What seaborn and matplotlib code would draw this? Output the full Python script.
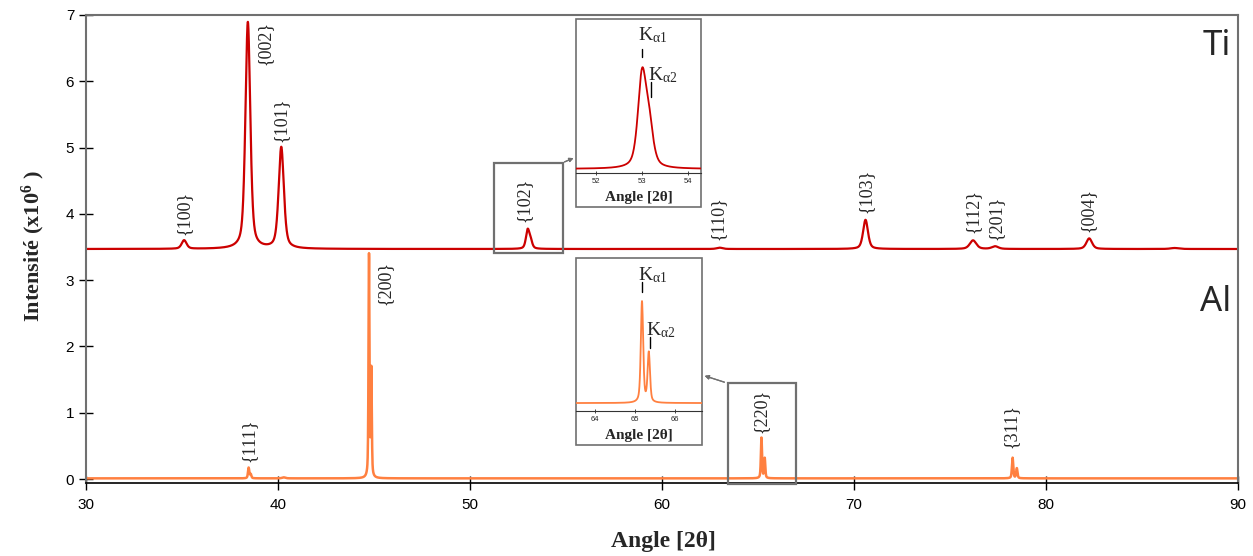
import numpy as np
import pandas as pd
import matplotlib.pyplot as plt
import seaborn as sns
from matplotlib.patches import Rectangle
from matplotlib.lines import Line2D

angle = np.arange(30.0, 90.0001, 0.005)

ti_base = 3.47
ti_pos = [35.11, 38.43, 40.17, 53.00, 53.15, 63.00, 70.60, 76.20, 77.35, 82.25, 86.70]
ti_h = [0.13, 3.42, 1.53, 0.27, 0.12, 0.02, 0.44, 0.13, 0.04, 0.16, 0.015]
ti_w = [0.30, 0.30, 0.32, 0.21, 0.21, 0.35, 0.30, 0.40, 0.40, 0.35, 0.50]

al_base = 0.01
al_pos = [38.47, 38.58, 40.30, 44.74, 44.86, 65.18, 65.35, 78.26, 78.48]
al_h = [0.16, 0.06, 0.015, 3.35, 1.60, 0.61, 0.30, 0.31, 0.15]
al_w = [0.08, 0.08, 0.20, 0.06, 0.06, 0.07, 0.07, 0.08, 0.08]

ti_lab = ['{100}', '{002}', '{101}', '{102}', '{110}', '{103}', '{112}', '{201}', '{004}']
ti_lab_x = [35.1, 39.33, 40.17, 52.8, 62.9, 70.6, 76.2, 77.4, 82.2]
ti_lab_y = [3.68, 6.25, 5.08, 3.88, 3.61, 4.01, 3.71, 3.61, 3.73]

al_lab = ['{111}', '{200}', '{220}', '{311}']
al_lab_x = [38.5, 45.59, 65.14, 78.17]
al_lab_y = [0.26, 2.62, 0.69, 0.47]

x_ticks = [30, 40, 50, 60, 70, 80, 90]
y_ticks = [0, 1, 2, 3, 4, 5, 6, 7]

ti_color = '#cc0000'
al_color = '#ff8040'
gris = '#707070'


def profil(x, base, pos, h, w, eta=0.5):
    y = np.full_like(x, base)
    for c, hh, ww in zip(pos, h, w):
        d = (x - c) / ww
        y = y + hh * (eta / (1 + 4 * d ** 2) + (1 - eta) * np.exp(-4 * np.log(2) * d ** 2))
    return y


df = pd.DataFrame({'angle': angle,
                   'Ti': profil(angle, ti_base, ti_pos, ti_h, ti_w),
                   'Al': profil(angle, al_base, al_pos, al_h, al_w)})

sns.set_style('ticks')
plt.rcParams['font.family'] = ['Liberation Sans', 'DejaVu Sans']
plt.rcParams['mathtext.default'] = 'regular'

W, H = 1253, 556
fig = plt.figure(figsize=(W / 100, H / 100), dpi=100)


def px(x, y):
    return (x / W, 1 - y / H)


ax = fig.add_axes([86 / W, 1 - 483 / H, (1238 - 86) / W, (483 - 15) / H])
sns.lineplot(data=df, x='angle', y='Ti', ax=ax, color=ti_color, lw=1.6, estimator=None)
sns.lineplot(data=df, x='angle', y='Al', ax=ax, color=al_color, lw=1.8, estimator=None)

ax.set_xlim(30, 90)
ax.set_ylim(-0.06, 7.0)
ax.set_xticks(x_ticks)
ax.set_yticks(y_ticks)
ax.set_xlabel('')
ax.set_ylabel('')
ax.tick_params(direction='inout', length=10, width=1, labelsize=11, colors='black')
ax.tick_params(axis='x', pad=6)
for s in ['left', 'top', 'right']:
    ax.spines[s].set_color(gris)
    ax.spines[s].set_linewidth(1.5)
ax.spines['bottom'].set_color('black')
ax.spines['bottom'].set_linewidth(1.2)

# indices de Miller
for t, x, y in zip(ti_lab, ti_lab_x, ti_lab_y):
    ax.text(x, y, t, rotation=90, ha='center', va='bottom', fontsize=13, family='Liberation Serif')
for t, x, y in zip(al_lab, al_lab_x, al_lab_y):
    ax.text(x, y, t, rotation=90, ha='center', va='bottom', fontsize=13, family='Liberation Serif')

ax.text(89.65, 6.40, 'Ti', ha='right', va='baseline', fontsize=25, family='Noto Sans')
ax.text(89.65, 2.53, 'Al', ha='right', va='baseline', fontsize=25, family='Noto Sans')

fig.text(*px(33, 246), 'Intensité (x10$^{6}$ )', rotation=90, ha='center', va='center',
         fontsize=16, fontweight='bold', family='Liberation Serif')
fig.text(*px(663, 542), 'Angle [2θ]', ha='center', va='center',
         fontsize=17, fontweight='bold', family='Liberation Serif')

# zones agrandies
ax.add_patch(Rectangle((51.27, 3.41), 3.55, 1.36, fill=False, ec=gris, lw=1.6, clip_on=False, zorder=5))
ax.add_patch(Rectangle((63.42, -0.075), 3.55, 1.525, fill=False, ec=gris, lw=1.6, clip_on=False, zorder=5))


def encart(top, axis_y, bottom, right, col, xlim, ylim, ticks):
    fig.add_artist(Rectangle(px(576, bottom), (right - 576) / W, (bottom - top) / H,
                             transform=fig.transFigure, fc='white', ec=gris, lw=1.2, zorder=3))
    a = fig.add_axes([576 / W, 1 - axis_y / H, (right - 576) / W, (axis_y - top - 1) / H])
    a.set_zorder(4)
    a.patch.set_alpha(0)
    sns.lineplot(data=df, x='angle', y=col, ax=a, color=ti_color if col == 'Ti' else al_color,
                 lw=1.3, estimator=None)
    a.set_xlim(*xlim)
    a.set_ylim(*ylim)
    a.set_xticks(ticks)
    a.set_xticklabels([str(t) for t in ticks], rotation=0)
    a.set_yticks([])
    a.set_xlabel('')
    a.set_ylabel('')
    a.tick_params(axis='x', direction='inout', length=3, width=0.6, labelsize=5.5, pad=2)
    for s in ['left', 'top', 'right']:
        a.spines[s].set_visible(False)
    a.spines['bottom'].set_linewidth(0.8)
    a.spines['bottom'].set_color('#333333')
    fig.text(*px(639, bottom - 9), 'Angle [2θ]', ha='center', va='center', fontsize=11,
             fontweight='bold', family='Liberation Serif', zorder=6)
    return a


encart(19, 173, 207, 701, 'Ti', (51.58, 54.27), (3.458, 3.92), [52, 53, 54])
encart(258, 411, 445, 702, 'Al', (63.53, 66.68), (-0.038, 0.88), [64, 65, 66])


def kalpha(xk, yb, label, xt, yt0, yt1):
    fig.text(*px(xk, yb), label, ha='left', va='baseline', fontsize=14,
             family='Liberation Serif', zorder=7)
    fig.add_artist(Line2D([xt / W, xt / W], [1 - yt0 / H, 1 - yt1 / H], color='black', lw=1, zorder=7))


kalpha(638, 40, 'K$_{α1}$', 642, 49, 57)
kalpha(648, 80, 'K$_{α2}$', 651, 82, 97)
kalpha(638, 280, 'K$_{α1}$', 642, 282, 292)
kalpha(646, 335, 'K$_{α2}$', 650, 337, 348)

# fleches vers les encarts
fig.add_artist(plt.annotate('', xy=px(576, 157), xycoords='figure fraction', xytext=px(562, 163),
                            textcoords='figure fraction',
                            arrowprops=dict(arrowstyle='-|>', color=gris, lw=0.9, mutation_scale=6)))
fig.add_artist(plt.annotate('', xy=px(702, 375), xycoords='figure fraction', xytext=px(727, 383),
                            textcoords='figure fraction',
                            arrowprops=dict(arrowstyle='-|>', color=gris, lw=0.9, mutation_scale=6)))

fig.savefig('out.png', dpi=100)
